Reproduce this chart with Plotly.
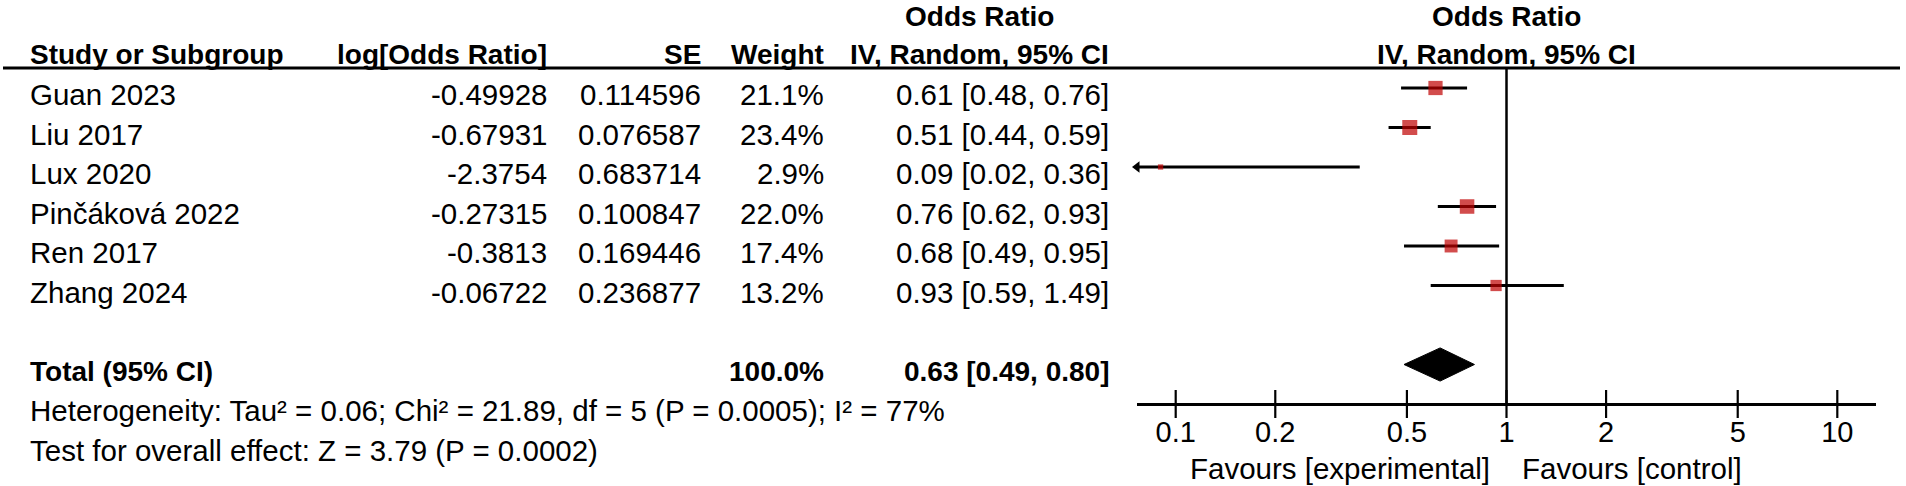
import math
import plotly.graph_objects as go

# Data
studies = ["Guan 2023", "Liu 2017", "Lux 2020", "Pinčáková 2022", "Ren 2017", "Zhang 2024"]
log_or = [-0.49928, -0.67931, -2.3754, -0.27315, -0.3813, -0.06722]
se = [0.114596, 0.076587, 0.683714, 0.100847, 0.169446, 0.236877]
weights = [21.1, 23.4, 2.9, 22.0, 17.4, 13.2]
or_est = [0.61, 0.51, 0.09, 0.76, 0.68, 0.93]
ci_low = [0.48, 0.44, 0.02, 0.62, 0.49, 0.59]
ci_high = [0.76, 0.59, 0.36, 0.93, 0.95, 1.49]

total_weight = 100.0
total_or = 0.63
total_low = 0.49
total_high = 0.80

heterogeneity = "Heterogeneity: Tau² = 0.06; Chi² = 21.89, df = 5 (P = 0.0005); I² = 77%"
overall_effect = "Test for overall effect: Z = 3.79 (P = 0.0002)"

tick_values = [0.1, 0.2, 0.5, 1, 2, 5, 10]
tick_labels = ["0.1", "0.2", "0.5", "1", "2", "5", "10"]

# Layout settings (pixels)
W, H = 1906, 486
ROW_TOP = 88
ROW_STEP = 39.5
TEXT_DY = 6.5          # text sits a little lower than the marks in the original
FONT = "Liberation Sans, Arial, sans-serif"
RED = "#BF0000"
AXIS_LOG_MIN, AXIS_LOG_MAX = -1.117, 1.117
TOTAL_ROW = len(studies) + 1
AXIS_ROW = TOTAL_ROW + 1


def row_of_px(py):
    return (py - ROW_TOP) / ROW_STEP


def px(x):
    return x / W


text_off = TEXT_DY / ROW_STEP
axis_min = 10 ** AXIS_LOG_MIN
rows = list(range(len(studies)))

fig = go.Figure()

# CI lines (clipped at the axis edge)
line_x, line_y = [], []
for i in rows:
    line_x += [max(ci_low[i], axis_min), ci_high[i], None]
    line_y += [i, i, None]
fig.add_trace(go.Scatter(x=line_x, y=line_y, mode="lines",
                         line=dict(color="black", width=2.8), hoverinfo="skip"))

# arrow heads where the CI runs off the axis
arrow_rows = [i for i in rows if ci_low[i] < axis_min]
fig.add_trace(go.Scatter(x=[axis_min for i in arrow_rows], y=arrow_rows, mode="markers",
                         marker=dict(symbol="triangle-left", size=10, color="black"),
                         cliponaxis=False, hoverinfo="skip"))

# study squares, area proportional to weight
fig.add_trace(go.Scatter(x=or_est, y=rows, mode="markers",
                         marker=dict(symbol="square", color=RED,
                                     size=[3.1 * math.sqrt(w) for w in weights],
                                     line=dict(width=0)),
                         hoverinfo="skip"))

# pooled diamond
half = 0.42
fig.add_trace(go.Scatter(x=[total_low, total_or, total_high, total_or, total_low],
                         y=[TOTAL_ROW, TOTAL_ROW - half, TOTAL_ROW, TOTAL_ROW + half, TOTAL_ROW],
                         mode="lines", fill="toself", fillcolor="black",
                         line=dict(color="black", width=1), hoverinfo="skip"))

# tick marks crossing the axis line
fig.add_trace(go.Scatter(x=tick_values, y=[AXIS_ROW] * len(tick_values), mode="markers",
                         marker=dict(symbol="line-ns", size=20, line=dict(color="black", width=2.2)),
                         cliponaxis=False, hoverinfo="skip"))

# line of no effect
fig.add_shape(type="line", xref="x", yref="y", x0=1, x1=1,
              y0=row_of_px(68), y1=AXIS_ROW, line=dict(color="black", width=2.5))
# header underline
fig.add_shape(type="line", xref="paper", yref="y", x0=px(3), x1=px(1900),
              y0=row_of_px(68), y1=row_of_px(68), line=dict(color="black", width=2.8))


def add_text(text, x, y, anchor="left", bold=False, size=None):
    if size is None:
        size = 28 if bold else 29.5
    fig.add_annotation(text=f"<b>{text}</b>" if bold else text,
                       x=px(x), y=y, xref="paper", yref="y",
                       xanchor=anchor, yanchor="middle", showarrow=False,
                       font=dict(family=FONT, size=size, color="black"))


# header rows
h1 = row_of_px(16)
h2 = row_of_px(54)
add_text("Odds Ratio", 979, h1, "center", bold=True)
add_text("Odds Ratio", 1506, h1, "center", bold=True)
add_text("Study or Subgroup", 28, h2, "left", bold=True)
add_text("log[Odds Ratio]", 549, h2, "right", bold=True)
add_text("SE", 703, h2, "right", bold=True)
add_text("Weight", 826, h2, "right", bold=True)
add_text("IV, Random, 95% CI", 1111, h2, "right", bold=True)
add_text("IV, Random, 95% CI", 1506, h2, "center", bold=True)

# study rows
for i in rows:
    ty = i + text_off
    add_text(studies[i], 28, ty, "left")
    add_text(str(log_or[i]), 549, ty, "right")
    add_text(str(se[i]), 703, ty, "right")
    add_text(f"{weights[i]:.1f}%", 826, ty, "right")
    add_text(f"{or_est[i]:.2f} [{ci_low[i]:.2f}, {ci_high[i]:.2f}]", 1111, ty, "right")

# total + footnotes
ty = TOTAL_ROW + text_off
add_text("Total (95% CI)", 28, ty, "left", bold=True)
add_text(f"{total_weight:.1f}%", 826, ty, "right", bold=True)
add_text(f"{total_or:.2f} [{total_low:.2f}, {total_high:.2f}]", 1111, ty, "right", bold=True)
add_text(heterogeneity, 28, TOTAL_ROW + 1 + text_off, "left")
add_text(overall_effect, 28, TOTAL_ROW + 2 + text_off, "left")

add_text("Favours [experimental]", 1492, row_of_px(468), "right")
add_text("Favours [control]", 1520, row_of_px(468), "left")

fig.update_layout(
    width=W, height=H,
    margin=dict(l=0, r=0, t=0, b=0),
    paper_bgcolor="white", plot_bgcolor="white",
    showlegend=False,
    xaxis=dict(type="log", range=[AXIS_LOG_MIN, AXIS_LOG_MAX],
               domain=[px(1137), px(1876)],
               anchor="free", position=1 - (ROW_TOP + AXIS_ROW * ROW_STEP) / H,
               showline=True, linecolor="black", linewidth=2.8,
               ticks="", ticklabelstandoff=1,
               tickvals=tick_values, ticktext=tick_labels,
               tickfont=dict(family=FONT, size=29, color="black"),
               showgrid=False, zeroline=False),
    yaxis=dict(range=[row_of_px(H), row_of_px(0)], domain=[0, 1],
               visible=False, showgrid=False, zeroline=False),
)

# the page body has a default 8px margin; drop it so the figure fills the window
fig.write_html("out.html", config={"displayModeBar": False},
               post_script="document.body.style.margin = '0';")
